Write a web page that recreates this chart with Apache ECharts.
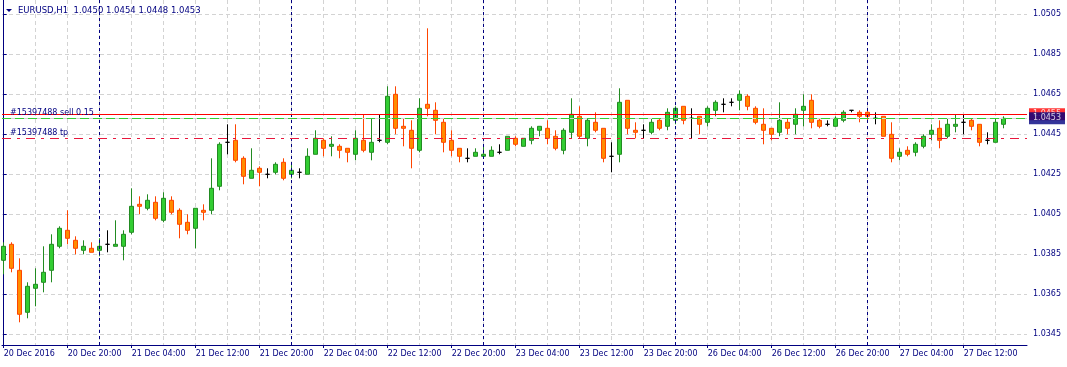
<!DOCTYPE html>
<html><head><meta charset="utf-8">
<script src="https://cdn.jsdelivr.net/npm/echarts@6/dist/echarts.min.js"></script>
<style>html,body{margin:0;padding:0;background:#fff}#c{width:1067px;height:367px}</style>
</head><body><div id="c"></div>
<script>
// ---------------- data ----------------
const symbolName = 'EURUSD';
const timeframe = 'H1';
const opens = [1.0382,1.0390,1.0377,1.0356,1.0368,1.0371,1.0377,1.0389,1.0397,1.0392,
1.0387,1.0388,1.0387,1.0390,1.0389,1.0389,1.0396,1.0410,1.0408,1.0411,
1.0402,1.0412,1.0407,1.0401,1.0398,1.0407,1.0407,1.0419,1.0441,1.0442,
1.0433,1.0423,1.0428,1.0425,1.0426,1.0431,1.0425,1.0426,1.0425,1.0435,
1.0442,1.0439,1.0439,1.0438,1.0435,1.0442,1.0436,1.0442,1.0441,1.0465,
1.0449,1.0447,1.0437,1.0460,1.0457,1.0451,1.0442,1.0438,1.0433,1.0434,
1.0434,1.0434,1.0436,1.0437,1.0443,1.0439,1.0442,1.0447,1.0448,1.0444,
1.0437,1.0446,1.0454,1.0443,1.0451,1.0448,1.0434,1.0435,1.0462,1.0447,
1.0447,1.0446,1.0452,1.0449,1.0452,1.0459,1.0453,1.0454,1.0451,1.0457,
1.0460,1.0461,1.0462,1.0464,1.0458,1.0450,1.0448,1.0446,1.0451,1.0450,
1.0457,1.0462,1.0452,1.0450,1.0449,1.0452,1.0457,1.0456,1.0456,1.0453,
1.0454,1.0445,1.0434,1.0437,1.0436,1.0439,1.0445,1.0448,1.0444,1.0449,
1.0451,1.0452,1.0450,1.0442,1.0441,1.0450];
const highs = [1.0391,1.0391,1.0383,1.0371,1.0378,1.0389,1.0395,1.0399,1.0407,1.0394,
1.0392,1.0391,1.0393,1.0397,1.0402,1.0397,1.0418,1.0414,1.0415,1.0414,
1.0416,1.0414,1.0408,1.0405,1.0408,1.0410,1.0433,1.0441,1.0450,1.0450,
1.0434,1.0438,1.0429,1.0428,1.0431,1.0433,1.0431,1.0428,1.0438,1.0447,
1.0443,1.0444,1.0440,1.0438,1.0447,1.0455,1.0453,1.0455,1.0469,1.0469,
1.0453,1.0452,1.0463,1.0498,1.0461,1.0453,1.0447,1.0438,1.0438,1.0438,
1.0439,1.0439,1.0440,1.0444,1.0444,1.0443,1.0449,1.0449,1.0452,1.0447,
1.0448,1.0463,1.0459,1.0453,1.0456,1.0448,1.0441,1.0468,1.0462,1.0451,
1.0450,1.0453,1.0453,1.0458,1.0459,1.0459,1.0458,1.0454,1.0459,1.0462,
1.0463,1.0463,1.0467,1.0465,1.0459,1.0458,1.0448,1.0461,1.0453,1.0458,
1.0465,1.0465,1.0453,1.0452,1.0454,1.0457,1.0457,1.0457,1.0457,1.0456,
1.0454,1.0451,1.0438,1.0439,1.0441,1.0445,1.0450,1.0452,1.0453,1.0455,
1.0455,1.0453,1.0450,1.0446,1.0453,1.0454];
const lows = [1.0375,1.0376,1.0351,1.0353,1.0359,1.0366,1.0371,1.0388,1.0390,1.0385,
1.0385,1.0386,1.0384,1.0386,1.0389,1.0382,1.0395,1.0405,1.0407,1.0402,
1.0401,1.0405,1.0393,1.0395,1.0388,1.0402,1.0405,1.0417,1.0435,1.0431,
1.0420,1.0423,1.0419,1.0423,1.0425,1.0422,1.0423,1.0423,1.0425,1.0435,
1.0434,1.0434,1.0433,1.0431,1.0432,1.0436,1.0432,1.0441,1.0440,1.0445,
1.0439,1.0428,1.0436,1.0454,1.0445,1.0436,1.0434,1.0431,1.0431,1.0434,
1.0433,1.0434,1.0435,1.0437,1.0439,1.0439,1.0440,1.0444,1.0440,1.0437,
1.0435,1.0443,1.0443,1.0439,1.0446,1.0431,1.0426,1.0431,1.0445,1.0443,
1.0443,1.0445,1.0447,1.0447,1.0450,1.0450,1.0443,1.0445,1.0449,1.0454,
1.0456,1.0459,1.0457,1.0457,1.0450,1.0440,1.0442,1.0444,1.0445,1.0445,
1.0449,1.0448,1.0448,1.0449,1.0449,1.0451,1.0456,1.0451,1.0451,1.0450,
1.0444,1.0431,1.0432,1.0434,1.0434,1.0438,1.0442,1.0438,1.0443,1.0446,
1.0445,1.0447,1.0439,1.0440,1.0441,1.0448];
const closes = [1.0389,1.0378,1.0355,1.0369,1.0370,1.0376,1.0390,1.0398,1.0393,1.0388,
1.0389,1.0386,1.0389,1.0390,1.0390,1.0395,1.0409,1.0409,1.0412,1.0403,
1.0413,1.0406,1.0400,1.0397,1.0408,1.0406,1.0418,1.0440,1.0441,1.0432,
1.0424,1.0427,1.0426,1.0425,1.0430,1.0423,1.0427,1.0426,1.0434,1.0443,
1.0438,1.0440,1.0437,1.0436,1.0443,1.0437,1.0441,1.0442,1.0464,1.0448,
1.0448,1.0438,1.0458,1.0458,1.0452,1.0441,1.0437,1.0434,1.0433,1.0436,
1.0435,1.0437,1.0436,1.0444,1.0440,1.0443,1.0448,1.0449,1.0443,1.0438,
1.0447,1.0455,1.0444,1.0452,1.0447,1.0433,1.0434,1.0461,1.0448,1.0446,
1.0447,1.0451,1.0448,1.0456,1.0458,1.0452,1.0453,1.0450,1.0458,1.0461,
1.0460,1.0461,1.0465,1.0459,1.0451,1.0447,1.0445,1.0452,1.0448,1.0455,
1.0459,1.0451,1.0449,1.0450,1.0453,1.0456,1.0457,1.0454,1.0454,1.0453,
1.0444,1.0433,1.0436,1.0435,1.0440,1.0444,1.0447,1.0442,1.0450,1.0450,
1.0451,1.0449,1.0441,1.0442,1.0451,1.0453];
const yTicks = [1.0345,1.0365,1.0385,1.0405,1.0425,1.0445,1.0465,1.0485,1.0505];
const xLabelBars = [0,8,16,24,32,40,48,56,64,72,80,88,96,104,112,120];
const xLabels = ['20 Dec 2016','20 Dec 20:00','21 Dec 04:00','21 Dec 12:00','21 Dec 20:00',
'22 Dec 04:00','22 Dec 12:00','22 Dec 20:00','23 Dec 04:00','23 Dec 12:00','23 Dec 20:00',
'26 Dec 04:00','26 Dec 12:00','26 Dec 20:00','27 Dec 04:00','27 Dec 12:00'];
const daySeparatorBars = [12,36,60,84,108];
const orderPrice = 1.0455;
const orderText = '#15397488 sell 0.15';
const tpPrice = 1.0443;
const tpText = '#15397488 tp';
const bidPrice = 1.0453;

// ---------------- layout / style ----------------
const W = 1067, H = 367;
const GL = 2, GR = 40, GT = 0, GB = 22;
const BAR_PX = 8, FIRST_BAR_X = 3.7;
const plotW = W - GL - GR;
const xMin = -(FIRST_BAR_X - GL) / BAR_PX;
const xMax = xMin + plotW / BAR_PX;
const PX_PER_UNIT = 20000, Y_REF = 1.0505, Y_REF_PX = 14.3;
const yMax = Y_REF + (Y_REF_PX - GT) / PX_PER_UNIT;
const yMin = yMax - (H - GT - GB) / PX_PER_UNIT;
const NAVY = '#000080';
const FONT = 'DejaVu Sans';
const GRIDC = '#d3d3d3';

const candleData = opens.map((o, i) => [i, o, closes[i], lows[i], highs[i]]);
const gridBars = [];
for (let b = 0; b < opens.length; b += 4) gridBars.push(b);
const last = opens.length - 1;
const fmt = v => v.toFixed(4);
const headerText = symbolName + ',' + timeframe + '  ' + fmt(opens[last]) + ' ' + fmt(highs[last]) + ' ' + fmt(lows[last]) + ' ' + fmt(closes[last]);

const lblFont = {fontFamily: FONT, fontSize: 8};
const boxLabel = (bg) => Object.assign({show: true, position: 'right', distance: 2, formatter: p => fmt(p.value[1]),
  color: '#ffffff', backgroundColor: bg, padding: [2, 4, 1, 4], lineHeight: 9}, lblFont);

const chart = echarts.init(document.getElementById('c'), null, {renderer: 'canvas'});
chart.setOption({
  animation: false,
  backgroundColor: '#ffffff',
  grid: {left: GL, right: GR, top: GT, bottom: GB, show: false},
  xAxis: [
    {type: 'value', min: xMin, max: xMax,
     axisLine: {show: false}, axisTick: {show: false, customValues: gridBars},
     axisLabel: {show: false},
     splitLine: {show: true, lineStyle: {color: GRIDC, type: [4, 3], width: 1}}},
    {type: 'value', min: xMin, max: xMax, position: 'bottom',
     axisLine: {show: true, onZero: false, lineStyle: {color: NAVY, width: 1}},
     axisTick: {show: true, customValues: xLabelBars, length: 3, lineStyle: {color: NAVY}},
     axisLabel: Object.assign({customValues: xLabelBars, formatter: v => xLabels[xLabelBars.indexOf(Math.round(v))] || '',
       align: 'left', margin: 5, color: NAVY, hideOverlap: false}, lblFont),
     splitLine: {show: false}}
  ],
  yAxis: [
    {type: 'value', position: 'right', min: yMin, max: yMax,
     axisLine: {show: true, lineStyle: {color: NAVY, width: 1}},
     axisTick: {show: true, customValues: yTicks, length: 3, lineStyle: {color: NAVY}},
     axisLabel: Object.assign({customValues: yTicks, formatter: v => v.toFixed(4), color: NAVY, margin: 6}, lblFont),
     splitLine: {show: true, lineStyle: {color: GRIDC, type: [4, 3], width: 1}}},
    {type: 'value', position: 'left', min: yMin, max: yMax,
     axisLine: {show: true, lineStyle: {color: NAVY, width: 1}},
     axisTick: {show: false}, axisLabel: {show: false}, splitLine: {show: false}}
  ],
  series: [
    {type: 'candlestick', xAxisIndex: 0, yAxisIndex: 0, z: 2,
     barWidth: 5,
     data: candleData,
     itemStyle: {color: '#32CD32', color0: '#FF8C00', borderColor: '#228B22', borderColor0: '#FF4500',
       borderColorDoji: '#000000', borderWidth: 1},
     markLine: {silent: true, symbol: 'none', animation: false, precision: 4,
       data: [
         ...daySeparatorBars.map(b => ({xAxis: b, lineStyle: {color: NAVY, type: [3, 3], width: 1}, label: {show: false}})),
         {yAxis: tpPrice, lineStyle: {color: '#E8173C', type: [9, 6, 3, 6], width: 1},
          label: Object.assign({show: true, position: 'insideStartTop', formatter: tpText, distance: [8, 1], color: NAVY}, lblFont)},
         {yAxis: orderPrice, lineStyle: {color: '#FF0000', type: 'solid', width: 1},
          label: Object.assign({show: true, position: 'insideStartTop', formatter: orderText, distance: [8, -3], color: NAVY}, lblFont)},
         {yAxis: bidPrice, lineStyle: {color: '#d3d3d3', type: 'solid', width: 1}, label: {show: false}},
         {yAxis: bidPrice, lineStyle: {color: '#32CD32', type: [9, 4], width: 1}, label: {show: false}}
       ]}},
    {type: 'scatter', xAxisIndex: 0, yAxisIndex: 0, z: 6, clip: false, silent: true,
     symbolSize: 0,
     data: [
       {value: [xMax, orderPrice], label: boxLabel('#FF0000')},
       {value: [xMax, bidPrice], label: boxLabel(NAVY)}
     ]}
  ],
  graphic: [
    {type: 'polygon', shape: {points: [[6, 9], [12, 9], [9, 12]]}, style: {fill: NAVY}, z: 100},
    {type: 'text', left: 18, top: 6, style: {text: headerText, font: '8.5px "DejaVu Sans"', fill: NAVY}, z: 100}
  ]
});
</script>
</body></html>
